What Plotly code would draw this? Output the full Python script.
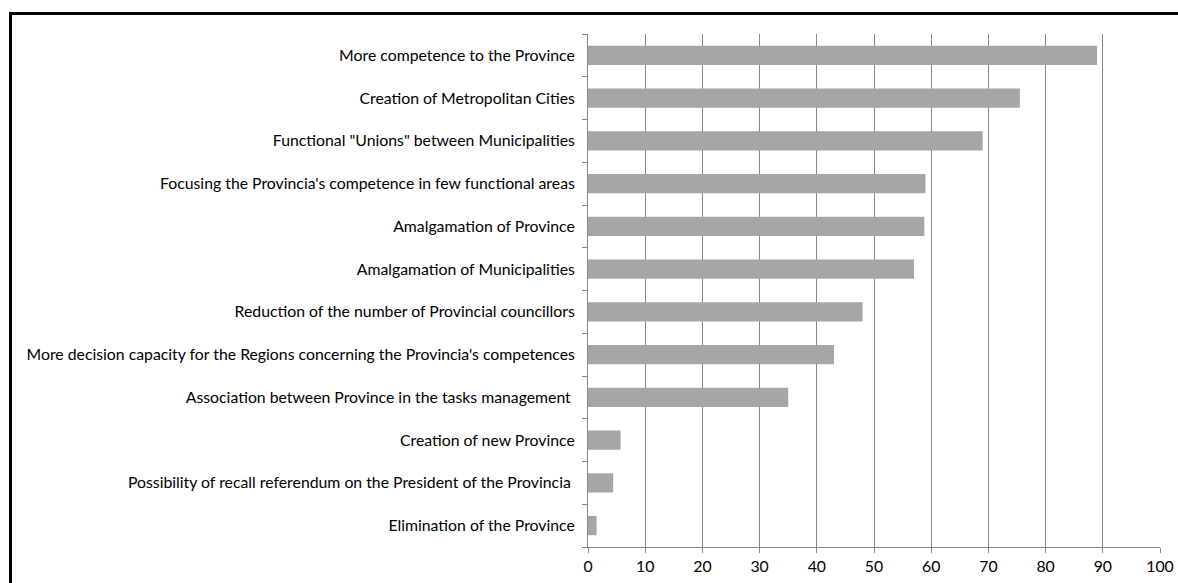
import plotly.graph_objects as go

categories = [
    "More competence to the Province",
    "Creation of Metropolitan Cities",
    'Functional "Unions" between Municipalities',
    "Focusing the Provincia's competence in few functional areas",
    "Amalgamation of Province",
    "Amalgamation of Municipalities",
    "Reduction of the number of Provincial councillors",
    "More decision capacity for the Regions concerning the Provincia's competences",
    "Association between Province in the tasks management ",
    "Creation of new Province",
    "Possibility of recall referendum on the President of the Provincia ",
    "Elimination of the Province",
]
values = [89, 75.5, 69, 59, 58.8, 57, 48, 43, 35, 5.7, 4.4, 1.5]
x_ticks = [0, 10, 20, 30, 40, 50, 60, 70, 80, 90, 100]

W, H = 1178, 583
L, R, T, B = 588, 18, 34, 36
pw, ph = W - L - R, H - T - B

fig = go.Figure(go.Bar(
    x=values[::-1], y=categories[::-1], orientation="h",
    marker=dict(color="#a6a6a6", line=dict(width=0)),
))

fig.update_layout(
    width=W, height=H,
    margin=dict(l=L, r=R, t=T, b=B, autoexpand=False),
    plot_bgcolor="white", paper_bgcolor="white",
    font=dict(family="Lato, Open Sans, sans-serif", size=15.8, color="#000000"),
    bargap=0.55,
    showlegend=False,
    xaxis=dict(
        range=[0, 100], tickvals=x_ticks, ticktext=[str(v) for v in x_ticks],
        showgrid=True, gridcolor="#868686", gridwidth=1,
        showline=True, linecolor="#868686", linewidth=1,
        ticks="outside", ticklen=5, tickcolor="#868686",
        zeroline=False, tickfont=dict(size=15.8), automargin=False,
    ),
    yaxis=dict(
        type="category",
        showline=True, linecolor="#868686", linewidth=1,
        ticks="outside", ticklen=5, tickcolor="#868686", tickson="boundaries",
        showgrid=False, ticklabelstandoff=9, tickfont=dict(size=15.8),
        automargin=False,
    ),
    shapes=[dict(
        type="rect", xref="paper", yref="paper",
        x0=(10.5 - L) / pw, x1=(W + 20 - L) / pw,
        y0=-(B + 20) / ph, y1=1 + (T - 13.5) / ph,
        line=dict(color="black", width=3), fillcolor="rgba(0,0,0,0)",
        layer="below",
    )],
)

fig.write_html("out.html", config={"displayModeBar": False})

with open("out.html", "r", encoding="utf-8") as f:
    html = f.read()
html = html.replace("<body>", '<body style="margin:0;padding:0;overflow:hidden">', 1)
with open("out.html", "w", encoding="utf-8") as f:
    f.write(html)
